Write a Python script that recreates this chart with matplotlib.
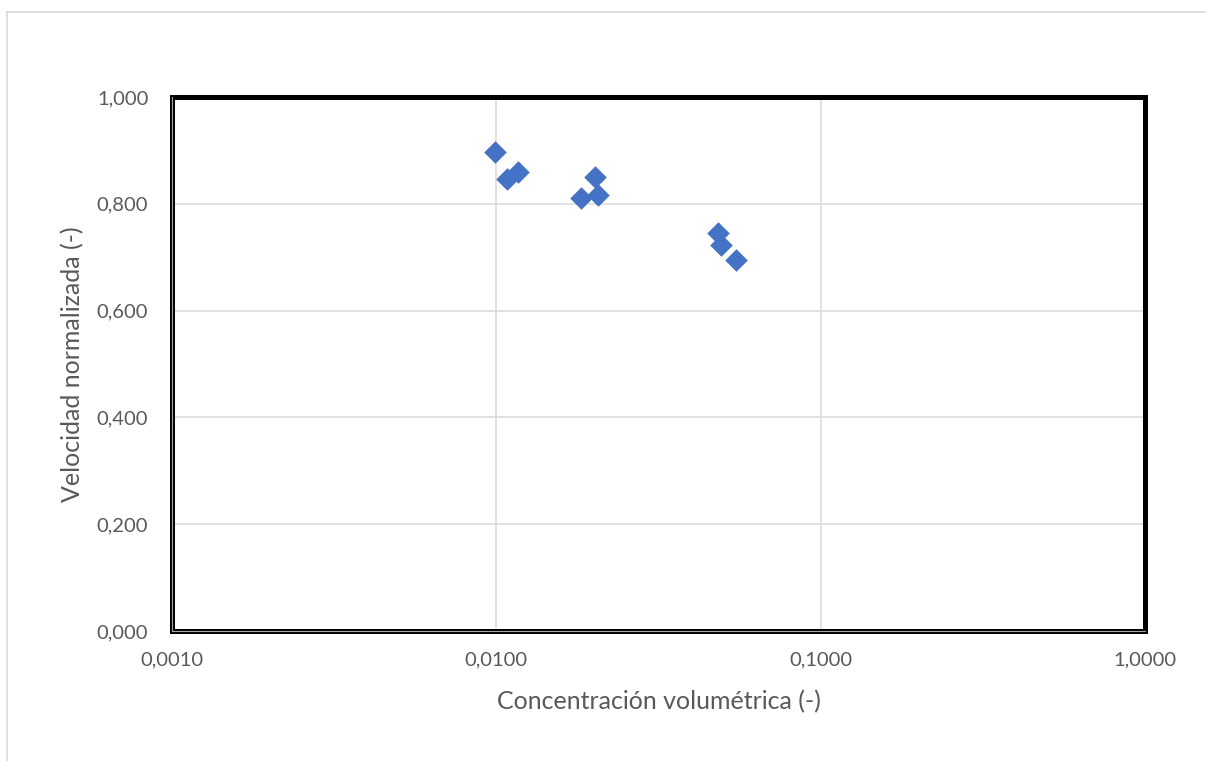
import matplotlib
matplotlib.use("Agg")
import matplotlib.pyplot as plt
import matplotlib.ticker as mticker
from matplotlib.lines import Line2D

# datos
conc = [0.0099, 0.01077, 0.01165, 0.0182, 0.0201, 0.02055, 0.0481, 0.0492, 0.0547]
vel = [0.897, 0.846, 0.860, 0.811, 0.850, 0.816, 0.745, 0.722, 0.695]

x_ticks = [0.001, 0.01, 0.1, 1.0]
y_ticks = [0.0, 0.2, 0.4, 0.6, 0.8, 1.0]

plt.rcParams['font.family'] = ['Lato', 'DejaVu Sans']
grey_txt = '#595959'

fig = plt.figure(figsize=(12.06, 7.61), dpi=100)
ax = fig.add_axes([0.1426, 0.1708, 0.9494 - 0.1426, 0.8725 - 0.1708])

ax.scatter(conc, vel, marker='D', s=11.5**2, color='#4472C4', linewidths=0, zorder=3)

ax.set_xscale('log')
ax.set_xlim(0.001, 1.0)
ax.set_ylim(0, 1.0)
ax.set_xticks(x_ticks)
ax.set_yticks(y_ticks)
ax.xaxis.set_minor_locator(mticker.NullLocator())
ax.xaxis.set_major_formatter(mticker.FuncFormatter(lambda v, p: ('%.4f' % v).replace('.', ',')))
ax.yaxis.set_major_formatter(mticker.FuncFormatter(lambda v, p: ('%.3f' % v).replace('.', ',')))
ax.tick_params(length=0, labelsize=14.5, labelcolor=grey_txt)
ax.tick_params(axis='y', pad=17)
ax.tick_params(axis='x', pad=15)

ax.grid(True, color='#d9d9d9', linewidth=1.1, zorder=0)
ax.set_axisbelow(True)

for s in ax.spines.values():
    s.set_color('black')
    s.set_linewidth(3.6)
    s.set_capstyle('projecting')
    s.set_zorder(4)
# linea gris dentro de los ejes izquierdo e inferior (doble linea)
ax.plot([0, 1], [0, 0], transform=ax.transAxes, color='#a6a6a6', lw=0.8, clip_on=False, zorder=5)
ax.plot([0, 0], [0, 1], transform=ax.transAxes, color='#a6a6a6', lw=0.8, clip_on=False, zorder=5)

ax.set_xlabel('Concentración volumétrica (-)', fontsize=18, color=grey_txt, labelpad=15)
ax.set_ylabel('Velocidad normalizada (-)', fontsize=18, color=grey_txt, labelpad=9)

# borde del area del grafico
fig.add_artist(Line2D([7 / 1206, 1205 / 1206], [1 - 11.5 / 761] * 2, color='#d9d9d9', lw=1.2))
fig.add_artist(Line2D([7 / 1206] * 2, [0, 1 - 11.5 / 761], color='#d9d9d9', lw=1.2))

fig.savefig('out.png', dpi=100, facecolor='white')
